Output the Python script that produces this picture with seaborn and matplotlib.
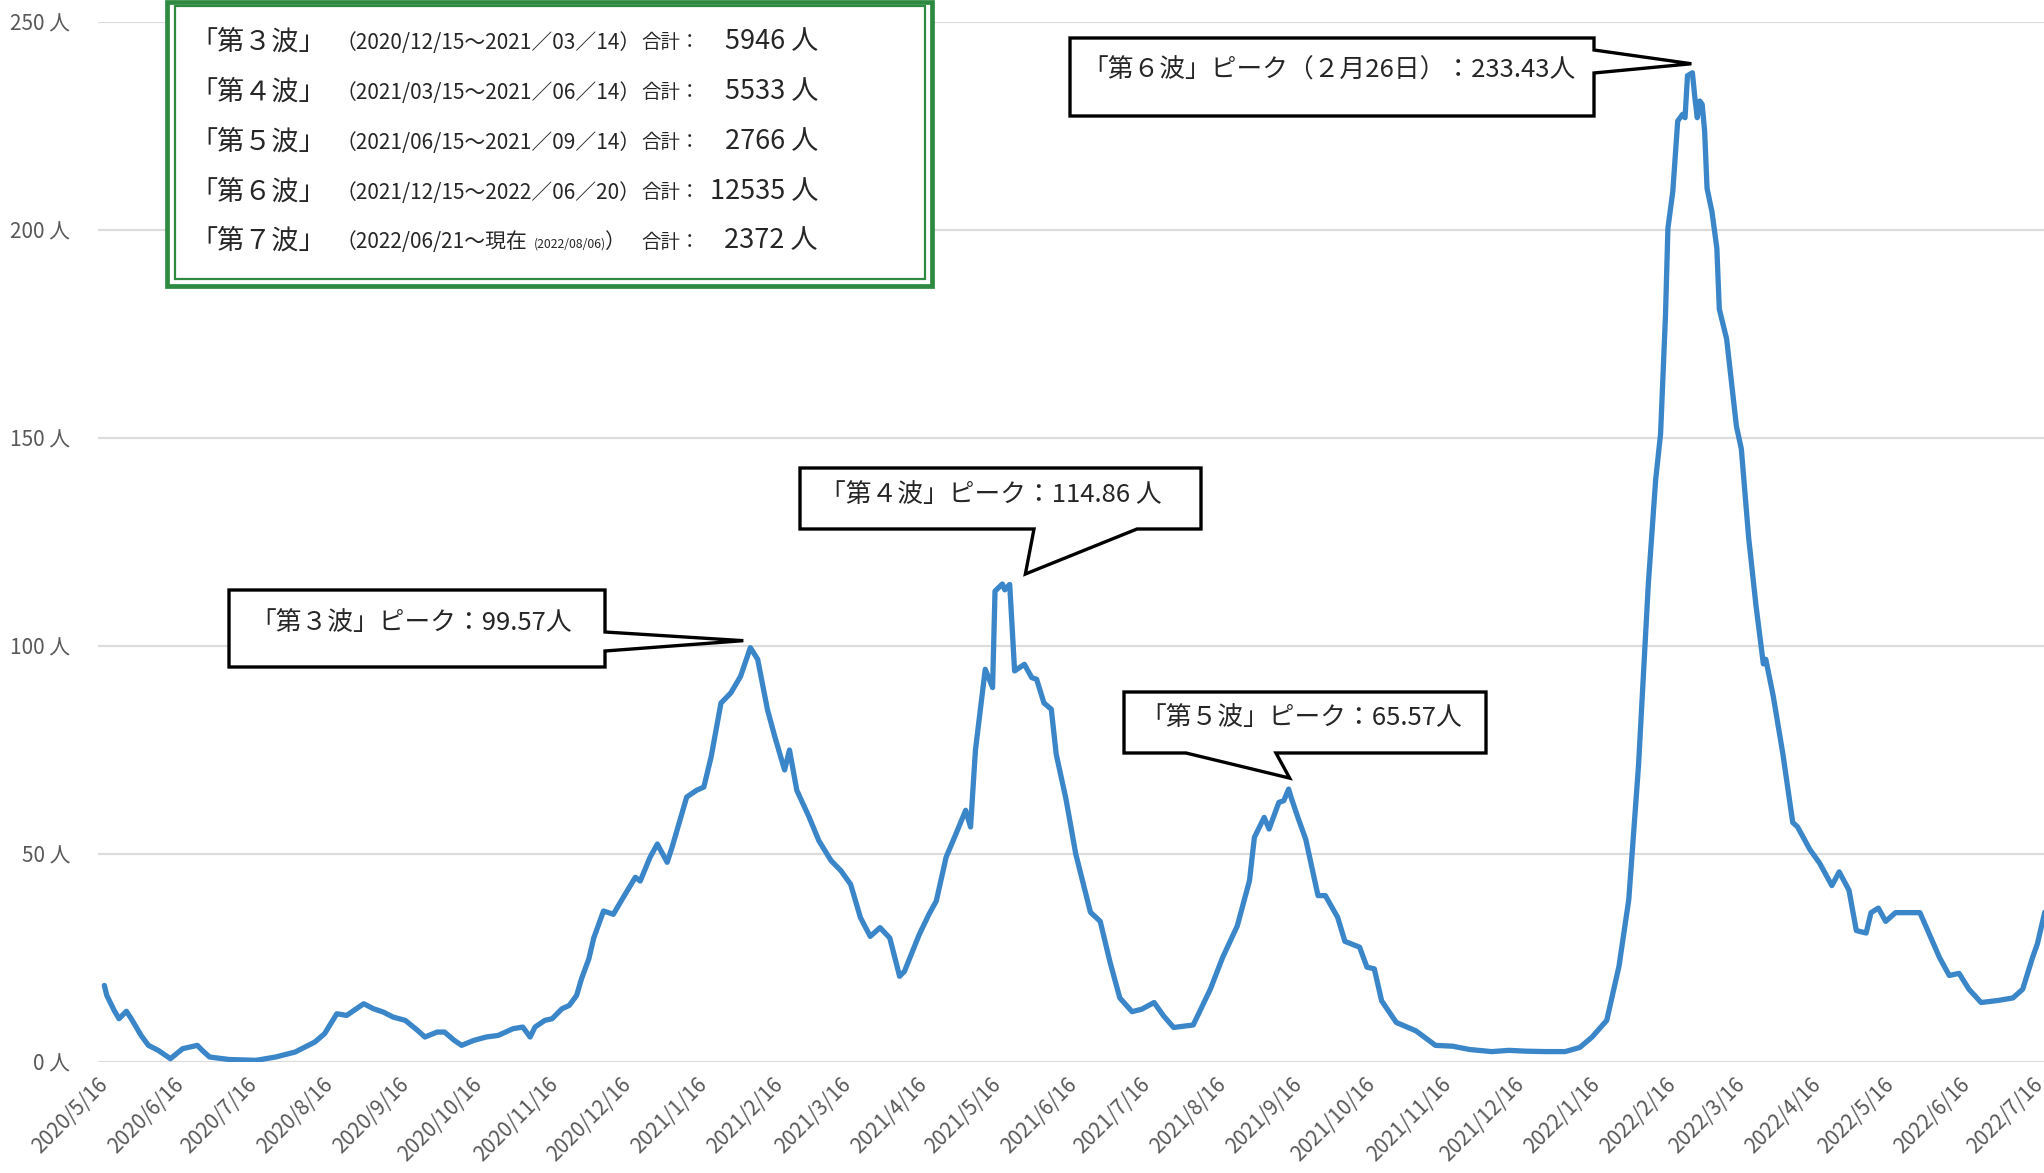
"""
新規陽性者数（7日間平均）の推移グラフ
"""

import numpy as np
import pandas as pd
import matplotlib
matplotlib.use('Agg')
import matplotlib.pyplot as plt
import matplotlib.dates as mdates
from matplotlib.patches import Polygon, Rectangle
import seaborn as sns

# データ（2020/5/16 からの経過日数と人数）
START = pd.Timestamp('2020-05-16')
days = [0, 1, 4, 6, 9, 11, 15, 18, 22, 27, 32, 35, 38, 40, 43, 51, 62, 70, 78, 86,
        90, 95, 99, 102, 106, 110, 114, 118, 123, 128, 131, 136, 139, 143, 146, 151,
        156, 161, 167, 171, 174, 176, 180, 183, 187, 190, 193, 195, 198, 200, 204,
        208, 212, 217, 219, 223, 226, 230, 232, 238, 242, 245, 248, 252, 256, 260,
        264, 267, 271, 274, 278, 280, 283, 288, 292, 297, 301, 305, 309, 313, 317,
        321, 325, 327, 333, 337, 340, 344, 348, 352, 354, 356, 360, 363, 364, 367,
        368, 370, 372, 376, 379, 381, 384, 387, 389, 393, 397, 403, 407, 411, 415,
        420, 424, 429, 433, 437, 445, 452, 457, 463, 468, 470, 474, 476, 480, 482,
        484, 485, 488, 491, 496, 499, 504, 507, 513, 516, 519, 522, 528, 532, 536,
        544, 551, 558, 567, 574, 581, 589, 597, 603, 608, 614, 619, 623, 627, 631,
        634, 636, 638, 639, 641, 643, 645, 646, 647, 649, 650, 651, 652, 653, 654,
        655, 657, 659, 660, 663, 665, 667, 669, 672, 675, 678, 679, 682, 686, 690,
        692, 697, 701, 706, 709, 713, 716, 720, 722, 725, 728, 732, 742, 746, 750,
        754, 758, 762, 767, 774, 780, 784, 788, 790, 793]
values = [18.4, 16.0, 12.4, 10.4, 12.2, 10.4, 6.4, 4.0, 2.8, 0.8, 3.2, 3.6, 4.0, 2.8,
          1.2, 0.6, 0.4, 1.2, 2.4, 4.8, 6.8, 11.6, 11.2, 12.4, 14.0, 12.8, 12.0, 10.8,
          10.0, 7.6, 6.0, 7.2, 7.2, 5.2, 4.0, 5.2, 6.0, 6.4, 8.0, 8.4, 6.0, 8.4, 10.0,
          10.4, 12.8, 13.6, 16.0, 20.0, 24.8, 29.8, 36.3, 35.5, 39.5, 44.4, 43.5, 49.2,
          52.4, 48.0, 51.6, 63.7, 65.3, 66.1, 73.4, 86.3, 88.7, 92.7, 99.6, 96.8, 84.7,
          78.2, 70.2, 75.0, 65.3, 58.9, 53.2, 48.4, 46.0, 42.7, 34.7, 30.2, 32.3, 29.8,
          20.6, 21.8, 30.6, 35.5, 38.7, 49.2, 54.8, 60.5, 56.5, 75.0, 94.4, 90.0, 113.2,
          114.9, 113.5, 114.8, 94.0, 95.6, 92.4, 92.0, 86.3, 84.8, 74.0, 63.2, 50.0,
          36.0, 33.8, 24.0, 15.4, 12.1, 12.7, 14.3, 11.0, 8.3, 8.9, 17.5, 25.1, 32.7,
          43.6, 54.0, 58.8, 56.0, 62.4, 62.8, 65.6, 63.6, 58.4, 53.5, 40.0, 40.0, 34.8,
          29.0, 27.6, 22.8, 22.4, 14.7, 9.5, 8.5, 7.5, 4.0, 3.8, 3.0, 2.5, 2.8, 2.6, 2.5,
          2.5, 3.5, 6.0, 10.0, 23.0, 39.0, 71.4, 115.0, 140.0, 151.0, 179.4, 200.4,
          209.3, 226.2, 227.8, 227.0, 237.1, 237.8, 231.9, 227.0, 231.0, 230.2, 223.8,
          210.0, 204.4, 195.6, 181.0, 173.8, 163.3, 152.8, 147.4, 126.0, 109.7, 95.7,
          96.8, 88.1, 74.0, 57.6, 56.5, 51.1, 47.8, 42.4, 45.7, 41.3, 31.6, 31.0, 35.9,
          37.0, 33.8, 35.9, 35.9, 30.5, 25.1, 20.8, 21.3, 17.5, 14.3, 14.8, 15.4, 17.5,
          25.1, 28.4, 36.0]

tick_labels = ['2020/5/16', '2020/6/16', '2020/7/16', '2020/8/16', '2020/9/16',
               '2020/10/16', '2020/11/16', '2020/12/16', '2021/1/16', '2021/2/16',
               '2021/3/16', '2021/4/16', '2021/5/16', '2021/6/16', '2021/7/16',
               '2021/8/16', '2021/9/16', '2021/10/16', '2021/11/16', '2021/12/16',
               '2022/1/16', '2022/2/16', '2022/3/16', '2022/4/16', '2022/5/16',
               '2022/6/16', '2022/7/16']
y_ticks = [0, 50, 100, 150, 200, 250]

# 各波の合計
wave_names = ['「第３波」', '「第４波」', '「第５波」', '「第６波」', '「第７波」']
wave_periods = ['（2020/12/15～2021／03／14）', '（2021/03/15～2021／06／14）',
                '（2021/06/15～2021／09／14）', '（2021/12/15～2022／06／20）',
                '（2022/06/21～現在']
wave_totals = ['5946', '5533', '2766', '12535', '2372']
current_date = '(2022/08/06)'

# ピーク注記
peak_texts = ['「第３波」ピーク：99.57人', '「第４波」ピーク：114.86 人',
              '「第５波」ピーク：65.57人', '「第６波」ピーク（２月26日）：233.43人']
peak_days = [264, 367, 484, 649]

W, H = 2044, 1173
LINE_COLOR = '#3a86c8'
GREEN = '#2e8a40'


def fpos(x, y):
    """画像ピクセル座標（左上原点）を figure 座標へ"""
    return (x / W, 1 - y / H)


def main():
    sns.set_theme(style='white')
    plt.rcParams['font.family'] = ['Noto Sans CJK JP', 'DejaVu Sans']

    fig = plt.figure(figsize=(W / 100, H / 100), dpi=100)
    ax = fig.add_axes([98 / W, (H - 1062) / H, (W - 98) / W, (1062 - 22) / H])

    df = pd.DataFrame({'date': START + pd.to_timedelta(days, unit='D'), 'value': values})
    sns.lineplot(data=df, x='date', y='value', ax=ax, color=LINE_COLOR,
                 linewidth=3.8, zorder=3)

    x0 = mdates.date2num(START)
    ax.set_xlim(x0 - 2.6, x0 + 792.7)
    ax.set_ylim(0, 250)

    tick_dates = pd.to_datetime(tick_labels, format='%Y/%m/%d')
    ax.set_xticks(tick_dates)
    ax.set_xticklabels(tick_labels, rotation=45, ha='right', va='center',
                       rotation_mode='anchor', fontsize=15, color='#595959')
    ax.set_yticks(y_ticks)
    ax.set_yticklabels([f'{v} 人' for v in y_ticks], fontsize=15, color='#595959')
    ax.tick_params(axis='y', length=0, pad=20)
    ax.tick_params(axis='x', length=0, pad=14)
    ax.yaxis.grid(True, color='#dcdcdc', linewidth=1.6)
    ax.xaxis.grid(False)
    for s in ax.spines.values():
        s.set_visible(False)
    ax.set_xlabel('')
    ax.set_ylabel('')

    # 合計の枠
    outer = Rectangle(fpos(167, 286), 765 / W, 284 / H, transform=fig.transFigure,
                      facecolor='white', edgecolor=GREEN, linewidth=3.4, zorder=5)
    inner = Rectangle(fpos(175, 279), 750 / W, 273 / H, transform=fig.transFigure,
                      facecolor='none', edgecolor=GREEN, linewidth=1.6, zorder=6)
    fig.add_artist(outer)
    fig.add_artist(inner)

    fig.canvas.draw()
    renderer = fig.canvas.get_renderer()

    rows_y = [42, 92, 142, 192, 241]
    for i, yy in enumerate(rows_y):
        fig.text(*fpos(190, yy), wave_names[i], fontsize=19.5, va='center', ha='left', zorder=7)
        t = fig.text(*fpos(336, yy + 1), wave_periods[i], fontsize=15, va='center',
                     ha='left', zorder=7)
        if i == len(rows_y) - 1:
            # 「現在」の後ろに小さい日付と閉じ括弧
            bb = t.get_window_extent(renderer)
            s = fig.text(bb.x1 / W + 6 / W, 1 - (yy + 3) / H, current_date, fontsize=8.8,
                         va='center', ha='left', zorder=7)
            bb2 = s.get_window_extent(renderer)
            fig.text(bb2.x1 / W - 2 / W, 1 - (yy + 1) / H, '）', fontsize=15,
                     va='center', ha='left', zorder=7)
        fig.text(*fpos(641, yy + 1), '合計：', fontsize=14, va='center', ha='left', zorder=7)
        fig.text(*fpos(818, yy), f'{wave_totals[i]} 人', fontsize=19.5, va='center',
                 ha='right', zorder=7)

    # ピークの吹き出し
    callouts = [
        dict(rect=(229, 590, 605, 667), side='right', base=(632, 651), off=(-7, -7),
             text_xy=(250, 623)),
        dict(rect=(800, 468, 1201, 529), side='bottom', base=(1137, 1034), off=(23, -10),
             text_xy=(820, 495)),
        dict(rect=(1124, 692, 1486, 753), side='bottom', base=(1276, 1186), off=(1, -11),
             text_xy=(1140, 718)),
        dict(rect=(1070, 38, 1594, 116), side='right', base=(50, 73), off=(-1, -9),
             text_xy=(1082, 71)),
    ]
    for i, c in enumerate(callouts):
        d = peak_days[i]
        near = [v for dd, v in zip(days, values) if abs(dd - d) <= 2]
        px, py = ax.transData.transform((x0 + d, max(near)))
        tip = (px + c['off'][0], (H - py) + c['off'][1])
        l, t, r, b = c['rect']
        if c['side'] == 'right':
            pts = [(l, t), (r, t), (r, c['base'][0]), tip, (r, c['base'][1]), (r, b), (l, b)]
        else:
            pts = [(l, t), (r, t), (r, b), (c['base'][0], b), tip, (c['base'][1], b), (l, b)]
        poly = Polygon([fpos(*p) for p in pts], closed=True, transform=fig.transFigure,
                       facecolor='white', edgecolor='black', linewidth=2.4, zorder=8)
        fig.add_artist(poly)
        fig.text(*fpos(*c['text_xy']), peak_texts[i], fontsize=18.5, va='center',
                 ha='left', zorder=9)

    fig.savefig('out.png', dpi=100, facecolor='white')
    plt.close(fig)


if __name__ == '__main__':
    main()
